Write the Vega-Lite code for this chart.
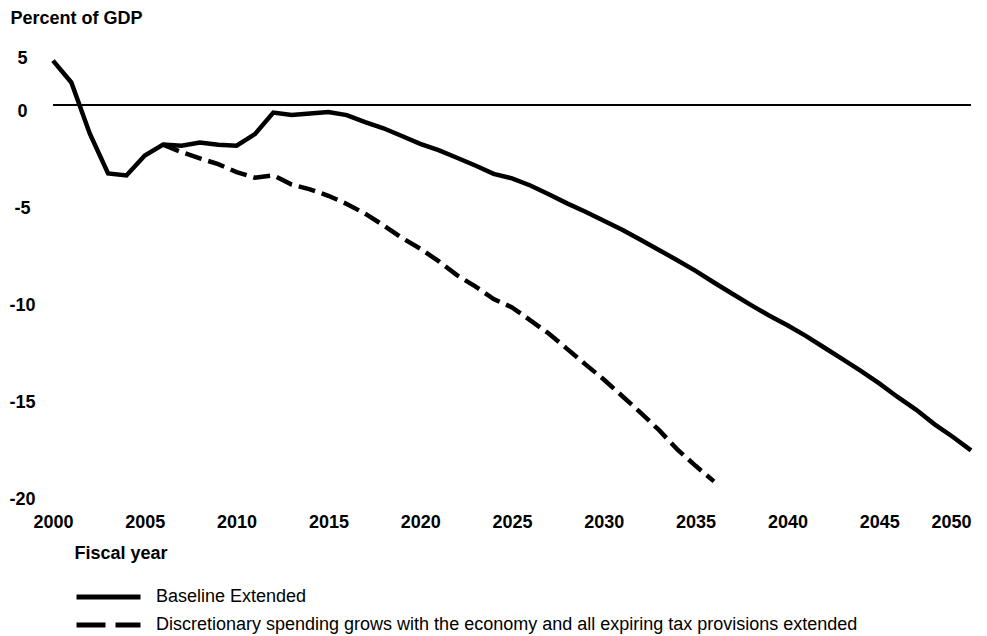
{
  "$schema": "https://vega.github.io/schema/vega-lite/v6.json",
  "width": 918,
  "height": 485,
  "autosize": "none",
  "padding": {"left": 53, "top": 8, "right": 16, "bottom": 143},
  "background": "white",
  "config": {
    "view": {"stroke": null},
    "font": "Liberation Sans"
  },
  "data": {
    "values": [
      {"year": 2000, "value": 2.29, "series": "Baseline Extended"},
      {"year": 2001, "value": 1.16, "series": "Baseline Extended"},
      {"year": 2002, "value": -1.47, "series": "Baseline Extended"},
      {"year": 2003, "value": -3.53, "series": "Baseline Extended"},
      {"year": 2004, "value": -3.63, "series": "Baseline Extended"},
      {"year": 2005, "value": -2.6, "series": "Baseline Extended"},
      {"year": 2006, "value": -2.04, "series": "Baseline Extended"},
      {"year": 2007, "value": -2.1, "series": "Baseline Extended"},
      {"year": 2008, "value": -1.93, "series": "Baseline Extended"},
      {"year": 2009, "value": -2.05, "series": "Baseline Extended"},
      {"year": 2010, "value": -2.1, "series": "Baseline Extended"},
      {"year": 2011, "value": -1.5, "series": "Baseline Extended"},
      {"year": 2012, "value": -0.39, "series": "Baseline Extended"},
      {"year": 2013, "value": -0.52, "series": "Baseline Extended"},
      {"year": 2014, "value": -0.44, "series": "Baseline Extended"},
      {"year": 2015, "value": -0.36, "series": "Baseline Extended"},
      {"year": 2016, "value": -0.52, "series": "Baseline Extended"},
      {"year": 2017, "value": -0.88, "series": "Baseline Extended"},
      {"year": 2018, "value": -1.2, "series": "Baseline Extended"},
      {"year": 2019, "value": -1.6, "series": "Baseline Extended"},
      {"year": 2020, "value": -2.0, "series": "Baseline Extended"},
      {"year": 2021, "value": -2.33, "series": "Baseline Extended"},
      {"year": 2022, "value": -2.72, "series": "Baseline Extended"},
      {"year": 2023, "value": -3.12, "series": "Baseline Extended"},
      {"year": 2024, "value": -3.55, "series": "Baseline Extended"},
      {"year": 2025, "value": -3.78, "series": "Baseline Extended"},
      {"year": 2026, "value": -4.15, "series": "Baseline Extended"},
      {"year": 2027, "value": -4.6, "series": "Baseline Extended"},
      {"year": 2028, "value": -5.07, "series": "Baseline Extended"},
      {"year": 2029, "value": -5.5, "series": "Baseline Extended"},
      {"year": 2030, "value": -5.97, "series": "Baseline Extended"},
      {"year": 2031, "value": -6.43, "series": "Baseline Extended"},
      {"year": 2032, "value": -6.95, "series": "Baseline Extended"},
      {"year": 2033, "value": -7.47, "series": "Baseline Extended"},
      {"year": 2034, "value": -8.0, "series": "Baseline Extended"},
      {"year": 2035, "value": -8.55, "series": "Baseline Extended"},
      {"year": 2036, "value": -9.15, "series": "Baseline Extended"},
      {"year": 2037, "value": -9.73, "series": "Baseline Extended"},
      {"year": 2038, "value": -10.3, "series": "Baseline Extended"},
      {"year": 2039, "value": -10.85, "series": "Baseline Extended"},
      {"year": 2040, "value": -11.35, "series": "Baseline Extended"},
      {"year": 2041, "value": -11.9, "series": "Baseline Extended"},
      {"year": 2042, "value": -12.5, "series": "Baseline Extended"},
      {"year": 2043, "value": -13.1, "series": "Baseline Extended"},
      {"year": 2044, "value": -13.7, "series": "Baseline Extended"},
      {"year": 2045, "value": -14.35, "series": "Baseline Extended"},
      {"year": 2046, "value": -15.05, "series": "Baseline Extended"},
      {"year": 2047, "value": -15.7, "series": "Baseline Extended"},
      {"year": 2048, "value": -16.45, "series": "Baseline Extended"},
      {"year": 2049, "value": -17.1, "series": "Baseline Extended"},
      {"year": 2050, "value": -17.8, "series": "Baseline Extended"},
      {"year": 2006, "value": -2.04, "series": "Discretionary spending grows with the economy and all expiring tax provisions extended"},
      {"year": 2007, "value": -2.43, "series": "Discretionary spending grows with the economy and all expiring tax provisions extended"},
      {"year": 2008, "value": -2.75, "series": "Discretionary spending grows with the economy and all expiring tax provisions extended"},
      {"year": 2009, "value": -3.05, "series": "Discretionary spending grows with the economy and all expiring tax provisions extended"},
      {"year": 2010, "value": -3.46, "series": "Discretionary spending grows with the economy and all expiring tax provisions extended"},
      {"year": 2011, "value": -3.75, "series": "Discretionary spending grows with the economy and all expiring tax provisions extended"},
      {"year": 2012, "value": -3.63, "series": "Discretionary spending grows with the economy and all expiring tax provisions extended"},
      {"year": 2013, "value": -4.1, "series": "Discretionary spending grows with the economy and all expiring tax provisions extended"},
      {"year": 2014, "value": -4.35, "series": "Discretionary spending grows with the economy and all expiring tax provisions extended"},
      {"year": 2015, "value": -4.68, "series": "Discretionary spending grows with the economy and all expiring tax provisions extended"},
      {"year": 2016, "value": -5.1, "series": "Discretionary spending grows with the economy and all expiring tax provisions extended"},
      {"year": 2017, "value": -5.6, "series": "Discretionary spending grows with the economy and all expiring tax provisions extended"},
      {"year": 2018, "value": -6.2, "series": "Discretionary spending grows with the economy and all expiring tax provisions extended"},
      {"year": 2019, "value": -6.85, "series": "Discretionary spending grows with the economy and all expiring tax provisions extended"},
      {"year": 2020, "value": -7.4, "series": "Discretionary spending grows with the economy and all expiring tax provisions extended"},
      {"year": 2021, "value": -8.05, "series": "Discretionary spending grows with the economy and all expiring tax provisions extended"},
      {"year": 2022, "value": -8.77, "series": "Discretionary spending grows with the economy and all expiring tax provisions extended"},
      {"year": 2023, "value": -9.35, "series": "Discretionary spending grows with the economy and all expiring tax provisions extended"},
      {"year": 2024, "value": -10.0, "series": "Discretionary spending grows with the economy and all expiring tax provisions extended"},
      {"year": 2025, "value": -10.43, "series": "Discretionary spending grows with the economy and all expiring tax provisions extended"},
      {"year": 2026, "value": -11.1, "series": "Discretionary spending grows with the economy and all expiring tax provisions extended"},
      {"year": 2027, "value": -11.78, "series": "Discretionary spending grows with the economy and all expiring tax provisions extended"},
      {"year": 2028, "value": -12.57, "series": "Discretionary spending grows with the economy and all expiring tax provisions extended"},
      {"year": 2029, "value": -13.37, "series": "Discretionary spending grows with the economy and all expiring tax provisions extended"},
      {"year": 2030, "value": -14.15, "series": "Discretionary spending grows with the economy and all expiring tax provisions extended"},
      {"year": 2031, "value": -15.0, "series": "Discretionary spending grows with the economy and all expiring tax provisions extended"},
      {"year": 2032, "value": -15.86, "series": "Discretionary spending grows with the economy and all expiring tax provisions extended"},
      {"year": 2033, "value": -16.75, "series": "Discretionary spending grows with the economy and all expiring tax provisions extended"},
      {"year": 2034, "value": -17.75, "series": "Discretionary spending grows with the economy and all expiring tax provisions extended"},
      {"year": 2035, "value": -18.6, "series": "Discretionary spending grows with the economy and all expiring tax provisions extended"},
      {"year": 2036, "value": -19.4, "series": "Discretionary spending grows with the economy and all expiring tax provisions extended"}
    ]
  },
  "layer": [
    {
      "mark": {"type": "rule", "color": "black", "strokeWidth": 2},
      "encoding": {"y": {"datum": 0, "type": "quantitative"}}
    },
    {
      "encoding": {
        "x": {
          "field": "year",
          "type": "quantitative",
          "scale": {"domain": [2000, 2050], "nice": false, "zero": false},
          "axis": {
            "values": [2000, 2005, 2010, 2015, 2020, 2025, 2030, 2035, 2040, 2045, 2050],
            "format": "d",
            "domain": false,
            "ticks": false,
            "tickSize": 0,
            "grid": false,
            "labelFlush": false,
            "labelOverlap": false,
            "labelAlign": {"condition": {"test": "datum.value === 2050", "value": "right"}, "value": "center"},
            "labelPadding": 20,
            "labelFont": "Liberation Sans",
            "labelFontSize": 18,
            "labelFontWeight": "bold",
            "labelColor": "black",
            "title": "Fiscal year",
            "titleFont": "Liberation Sans",
            "titleFontSize": 18,
            "titleFontWeight": "bold",
            "titleColor": "black",
            "titleAlign": "left",
            "titleBaseline": "middle",
            "titleX": 21,
            "titleY": 60
          }
        },
        "y": {
          "field": "value",
          "type": "quantitative",
          "scale": {"domain": [-20, 5], "nice": false, "zero": false},
          "axis": {
            "values": [-20, -15, -10, -5, 0, 2.7],
            "labelExpr": "datum.value > 1 ? '5' : toString(datum.value)",
            "domain": false,
            "ticks": false,
            "tickSize": 0,
            "grid": false,
            "labelFlush": false,
            "labelOverlap": false,
            "labelAlign": "center",
            "labelPadding": 31,
            "labelOffset": 6,
            "labelFont": "Liberation Sans",
            "labelFontSize": 18,
            "labelFontWeight": "bold",
            "labelColor": "black",
            "title": "Percent of GDP",
            "titleFont": "Liberation Sans",
            "titleFontSize": 18,
            "titleFontWeight": "bold",
            "titleColor": "black",
            "titleAngle": 0,
            "titleAlign": "left",
            "titleBaseline": "middle",
            "titleX": -43,
            "titleY": 10
          }
        }
      },
      "layer": [
        {
          "transform": [{"filter": "datum.series === 'Baseline Extended'"}],
          "mark": {"type": "line", "color": "black", "strokeWidth": 4.5}
        },
        {
          "transform": [{"filter": "datum.series !== 'Baseline Extended'"}],
          "mark": {"type": "line", "color": "black", "strokeWidth": 4.5, "strokeDash": [17, 7]}
        },
        {
          "mark": {"type": "line", "color": "black", "strokeWidth": 4.5, "opacity": 0},
          "encoding": {
            "strokeDash": {
              "field": "series",
              "type": "nominal",
              "scale": {
                "domain": ["Baseline Extended", "Discretionary spending grows with the economy and all expiring tax provisions extended"],
                "range": [[1, 0], [29, 10]]
              },
              "legend": {
                "orient": "none",
                "legendX": 21,
                "legendY": 575,
                "title": null,
                "padding": 0,
                "symbolType": "stroke",
                "symbolSize": 4096,
                "symbolStrokeWidth": 5,
                "symbolStrokeColor": "black",
                "symbolOpacity": 1,
                "clipHeight": 28,
                "rowPadding": 0,
                "labelOffset": 13,
                "labelFont": "Liberation Sans",
                "labelFontSize": 18,
                "labelColor": "black",
                "labelLimit": 900
              }
            }
          }
        }
      ]
    }
  ]
}
